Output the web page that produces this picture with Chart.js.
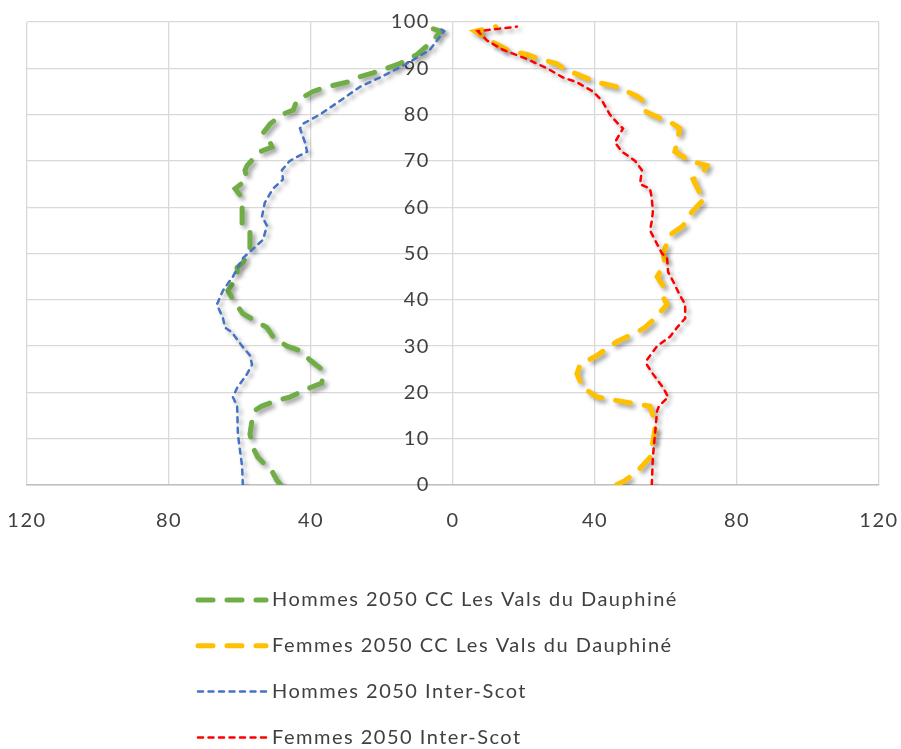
<!DOCTYPE html>
<html>
<head>
<meta charset="utf-8">
<script src="https://cdn.jsdelivr.net/npm/chart.js@4.4.1/dist/chart.umd.min.js"></script>
<style>
  html, body { margin: 0; padding: 0; background: #fff; overflow: hidden; }
  .chart-container { position: relative; width: 901px; height: 749px; }
</style>
</head>
<body>
<div class="chart-container"><canvas id="pyramid"></canvas></div>
<script>
// Population pyramid 2050 - ages on y, population on x (men on the left)

const seriesLabels = [
    "Hommes 2050 CC Les Vals du Dauphiné",
    "Femmes 2050 CC Les Vals du Dauphiné",
    "Hommes 2050 Inter-Scot",
    "Femmes 2050 Inter-Scot"
];

// Hommes CC (green)
const hommesCCAges   = [0, 1, 3, 6, 8, 11, 14, 16, 17, 18, 19, 21, 22, 24, 25, 27, 29, 30, 32, 34, 37, 40, 42, 45, 47, 48, 51, 55, 56, 60, 62, 64, 66, 68, 69, 72, 73, 74, 76, 78, 80, 81, 83, 85, 86, 87, 88, 89, 91, 93, 96, 98, 99];
const hommesCCValues = [48.5, 49.6, 51, 55, 56.3, 57.2, 56.6, 56, 54, 50.5, 46, 40.3, 37, 36.5, 37, 40.3, 43.1, 46.8, 50.7, 52.4, 59.2, 62, 63.4, 60.8, 60.8, 59.2, 57.2, 57.2, 59.4, 59.4, 59.4, 61.4, 58, 58.6, 58, 54.4, 51, 51.5, 53.5, 51.5, 48.2, 45, 44, 39.4, 35.5, 29.9, 27, 22.5, 15, 10.1, 5.6, 3.5, 7.5];

// Femmes CC (yellow)
const femmesCCAges   = [0, 1, 3, 6, 12, 15, 17, 18, 19, 21, 24, 26, 28, 31, 33, 34, 36, 39, 41, 43, 45, 48, 50, 54, 56, 59, 62, 63, 66, 67, 69, 70, 72, 74, 77, 78, 79, 80, 81, 83, 84, 86, 87, 88, 90, 91, 92, 93, 94, 96, 98, 99];
const femmesCCValues = [46, 48.5, 52, 55.5, 56.9, 56.3, 55.5, 47.9, 40.6, 36.6, 34.9, 35.8, 40.6, 46.2, 51.8, 54, 56.9, 60.3, 58.9, 59.2, 57.5, 59.7, 59.2, 61.1, 64.8, 67.3, 71, 69.6, 67.6, 70.1, 71.5, 66.8, 62.5, 63.1, 63.9, 62, 59, 56, 53.5, 53.5, 51.8, 46.2, 40.6, 37.2, 31, 29.3, 24.5, 20.8, 15.2, 10.4, 6.2, 12];

// Hommes Inter-Scot (blue)
const hommesISAges   = [0, 4, 11, 17, 19, 21, 24, 26, 28, 30, 33, 34, 36, 39, 42, 45, 49, 51, 53, 56, 58, 61, 64, 66, 68, 70, 72, 74, 77, 78, 80, 83, 86, 88, 91, 94, 98, 99];
const hommesISValues = [59.2, 59.4, 60.6, 60.8, 62, 60.8, 58, 56.6, 57.2, 59.4, 62.3, 64.2, 64.8, 66.5, 64.8, 62, 59.2, 56.3, 53.5, 52.4, 53.8, 53, 50.7, 47.9, 48.2, 46, 41.1, 41.7, 43.1, 42.3, 37.5, 31.8, 26.2, 20.6, 13, 6.5, 2.5, 4.5];

// Femmes Inter-Scot (red)
const femmesISAges   = [0, 6, 11, 16, 17, 19, 21, 24, 26, 27, 30, 32, 34, 36, 39, 41, 44, 46, 49, 50, 52, 55, 57, 59, 62, 64, 65, 68, 70, 72, 74, 77, 78, 80, 83, 85, 87, 88, 90, 92, 94, 96, 98, 99];
const femmesISValues = [56, 56.3, 56.9, 57.5, 58, 60.6, 59.2, 56.3, 54.6, 54.6, 57.5, 61.1, 63.1, 65.4, 65.4, 63.9, 62, 60.6, 60.3, 58.9, 57.5, 55.5, 56, 56.3, 56, 55.5, 52.7, 53.2, 51.3, 47.6, 45.6, 47.9, 46.5, 44.2, 42, 39.4, 34.9, 31, 26.5, 20.8, 14.1, 9.6, 7, 18];

// men are drawn on the negative side
const toPoints = (ages, values, sign) => ages.map((a, i) => ({ x: sign * values[i], y: a }));

const fontFamily = "Lato, 'Open Sans', sans-serif";
const fontSize = 20;
const textColor = "#404040";

// Excel spaces its letters a bit wider
const letterSpacing = {
    id: "letterSpacing",
    beforeDraw(chart) {
        chart.ctx.letterSpacing = "1.5px";
    }
};

// soft drop shadow under the lines, like the original
const lineShadow = {
    id: "lineShadow",
    beforeDatasetDraw(chart) {
        const ctx = chart.ctx;
        ctx.save();
        ctx.shadowColor = "rgba(0, 0, 0, 0.38)";
        ctx.shadowBlur = 4;
        ctx.shadowOffsetX = 3;
        ctx.shadowOffsetY = 3;
    },
    afterDatasetDraw(chart) {
        chart.ctx.restore();
    }
};

// one legend entry per row, left aligned under the plot
const stackedLegend = {
    id: "stackedLegend",
    afterDraw(chart) {
        const ctx = chart.ctx;
        const x0 = 198, x1 = 266, textX = 272, top = 600, rowGap = 45.8;
        chart.data.datasets.forEach((ds, i) => {
            const y = top + i * rowGap;
            ctx.save();
            ctx.strokeStyle = ds.borderColor;
            ctx.lineWidth = ds.borderWidth;
            ctx.lineCap = "round";
            ctx.setLineDash(ds.borderDash);
            ctx.beginPath();
            ctx.moveTo(x0, y);
            ctx.lineTo(x1, y);
            ctx.stroke();
            ctx.setLineDash([]);
            ctx.fillStyle = textColor;
            ctx.font = fontSize + "px " + fontFamily;
            ctx.textBaseline = "middle";
            ctx.textAlign = "left";
            ctx.fillText(ds.label, textX, y);
            ctx.restore();
        });
    }
};

new Chart("pyramid", {
    type: "scatter",
    data: {
        datasets: [
            {
                label: seriesLabels[0],
                data: toPoints(hommesCCAges, hommesCCValues, -1),
                borderColor: "#70AD47",
                backgroundColor: "#70AD47",
                borderWidth: 5,
                borderDash: [15, 14],
                borderCapStyle: "round",
                order: 4
            },
            {
                label: seriesLabels[1],
                data: toPoints(femmesCCAges, femmesCCValues, 1),
                borderColor: "#FFC000",
                backgroundColor: "#FFC000",
                borderWidth: 5,
                borderDash: [15, 14],
                borderCapStyle: "round",
                order: 3
            },
            {
                label: seriesLabels[2],
                data: toPoints(hommesISAges, hommesISValues, -1),
                borderColor: "#4472C4",
                backgroundColor: "#4472C4",
                borderWidth: 2.5,
                borderDash: [5, 5.5],
                borderCapStyle: "round",
                order: 2
            },
            {
                label: seriesLabels[3],
                data: toPoints(femmesISAges, femmesISValues, 1),
                borderColor: "#FF0000",
                backgroundColor: "#FF0000",
                borderWidth: 2.5,
                borderDash: [5, 5.5],
                borderCapStyle: "round",
                order: 1
            }
        ]
    },
    options: {
        responsive: true,
        maintainAspectRatio: false,
        animation: false,
        showLine: true,
        elements: {
            point: { radius: 0 },
            line: { tension: 0 }
        },
        layout: { padding: { top: 22, left: 27, right: 22, bottom: 214 } },
        scales: {
            x: {
                type: "linear",
                min: -120,
                max: 120,
                ticks: {
                    stepSize: 40,
                    callback: (v) => Math.abs(v),
                    padding: 0,
                    color: textColor,
                    font: { family: fontFamily, size: fontSize }
                },
                grid: {
                    color: "#d9d9d9",
                    lineWidth: 1.3,
                    drawTicks: true,
                    tickLength: 24,
                    tickColor: "rgba(0,0,0,0)"
                },
                border: { color: "#bfbfbf", width: 1.5 },
                afterFit: (scale) => { scale.height = 50; }
            },
            yGrid: {
                type: "linear",
                axis: "y",
                position: "left",
                min: 0,
                max: 100,
                ticks: { display: false, stepSize: 10 },
                grid: { color: "#d9d9d9", lineWidth: 1.3, drawTicks: false },
                border: { display: false }
            },
            // age labels sit just left of the middle line
            y: {
                type: "linear",
                position: { x: -6.5 },
                min: 0,
                max: 100,
                z: 1,
                ticks: {
                    stepSize: 10,
                    padding: 0,
                    color: textColor,
                    font: { family: fontFamily, size: fontSize }
                },
                grid: { display: false, drawTicks: false },
                border: { display: false }
            }
        },
        plugins: {
            tooltip: { enabled: false },
            legend: { display: false }
        }
    },
    plugins: [letterSpacing, lineShadow, stackedLegend]
});
</script>
</body>
</html>
